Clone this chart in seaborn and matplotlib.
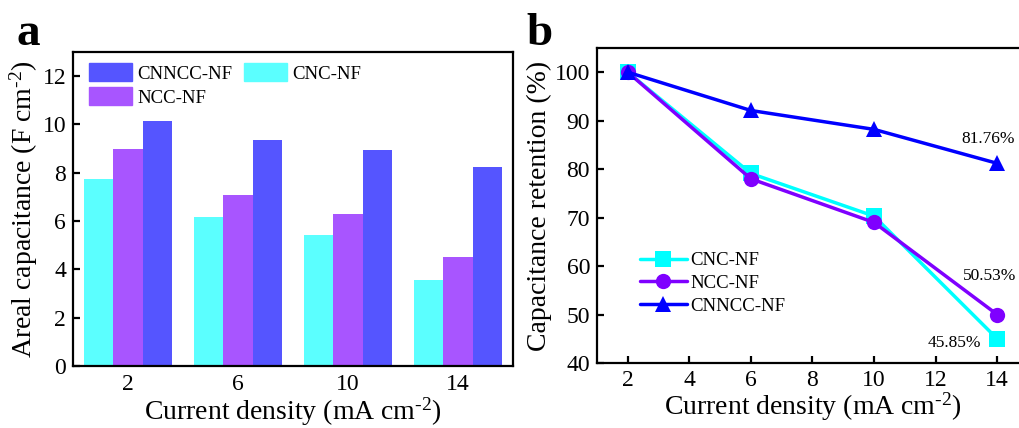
import numpy as np
import pandas as pd
import matplotlib
matplotlib.use("Agg")
import matplotlib.pyplot as plt
import seaborn as sns
from matplotlib.patches import Patch

# ============================================
# Data
# ============================================
currents = [2, 6, 10, 14]
samples = ["CNC-NF", "NCC-NF", "CNNCC-NF"]

cnc_cap = [7.74, 6.17, 5.43, 3.57]
ncc_cap = [8.98, 7.08, 6.30, 4.52]
cnncc_cap = [10.13, 9.35, 8.93, 8.23]

cnc_ret = [100, 79.1, 70.3, 45.0]
ncc_ret = [100, 78.0, 69.0, 50.0]
cnncc_ret = [100, 92.1, 88.2, 81.2]

ret_labels = ["81.76%", "50.53%", "45.85%"]

bar_colors = {"CNC-NF": "#5BFFFF", "NCC-NF": "#A855FF", "CNNCC-NF": "#5555FF"}
line_colors = {"CNC-NF": "#00FFFF", "NCC-NF": "#7F00FF", "CNNCC-NF": "#0000FF"}
line_markers = {"CNC-NF": "s", "NCC-NF": "o", "CNNCC-NF": "^"}

cap_df = pd.DataFrame({
    "current": [str(c) for c in currents] * 3,
    "sample": np.repeat(samples, len(currents)),
    "cap": cnc_cap + ncc_cap + cnncc_cap,
})
ret_df = pd.DataFrame({
    "current": currents * 3,
    "sample": np.repeat(samples, len(currents)),
    "ret": cnc_ret + ncc_ret + cnncc_ret,
})

# ============================================
# Style
# ============================================
sns.set_style("ticks")
plt.rcParams["font.family"] = ["Liberation Serif", "DejaVu Serif"]
plt.rcParams["mathtext.fontset"] = "custom"
plt.rcParams["mathtext.rm"] = "Liberation Serif"
plt.rcParams["mathtext.it"] = "Liberation Serif:italic"
plt.rcParams["axes.linewidth"] = 1.6
plt.rcParams["axes.edgecolor"] = "black"
plt.rcParams["text.color"] = "black"
plt.rcParams["axes.labelcolor"] = "black"
plt.rcParams["xtick.color"] = "black"
plt.rcParams["ytick.color"] = "black"

xlab = "Current density (mA cm$^{\\text{-2}}$)"

fig = plt.figure(figsize=(10.2, 4.28), dpi=100)
ax1 = fig.add_axes([0.0716, 0.1449, 0.4314, 0.7336])
ax2 = fig.add_axes([0.5853, 0.1519, 0.4225, 0.736])

# ============================================
# Panel a: bars
# ============================================
sns.barplot(data=cap_df, x="current", y="cap", hue="sample",
            hue_order=samples, palette=bar_colors, width=0.8,
            linewidth=0, saturation=1, ax=ax1, legend=False)
ax1.set_xlim(-0.5, 3.5)
ax1.set_ylim(0, 13)
ax1.set_yticks([0, 2, 4, 6, 8, 10, 12])
ax1.set_xlabel(xlab, fontsize=20, labelpad=0)
ax1.set_ylabel("Areal capacitance (F cm$^{\\text{-2}}$)", fontsize=20, labelpad=2)
ax1.tick_params(direction="in", labelsize=17, width=1.6, length=5, pad=5)
ax1.tick_params(axis="x", pad=6)

handles = [Patch(color=bar_colors[s]) for s in ["CNNCC-NF", "NCC-NF", "CNC-NF"]]
ax1.legend(handles, ["CNNCC-NF", "NCC-NF", "CNC-NF"], ncol=2, loc="upper left",
           frameon=False, fontsize=13.5, handlelength=2.3, handleheight=1.1,
           handletextpad=0.3, columnspacing=0.6, labelspacing=0.25,
           borderaxespad=0.2, bbox_to_anchor=(0.01, 1.0))

# ============================================
# Panel b: retention lines
# ============================================
for s in samples:
    sub = ret_df[ret_df["sample"] == s]
    sns.lineplot(data=sub, x="current", y="ret", color=line_colors[s],
                 marker=line_markers[s], markersize=11, markeredgewidth=0,
                 linewidth=2.5, label=s, ax=ax2)

ax2.set_xlim(1, 15)
ax2.set_ylim(40, 105)
ax2.set_xticks([2, 4, 6, 8, 10, 12, 14])
ax2.set_yticks([40, 50, 60, 70, 80, 90, 100])
ax2.set_xlabel(xlab, fontsize=20, labelpad=0)
ax2.set_ylabel("Capacitance retention (%)", fontsize=20, labelpad=2)
ax2.tick_params(direction="in", labelsize=17, width=1.6, length=5, pad=5)
ax2.legend(loc="lower left", frameon=False, fontsize=13.5, handlelength=2.5,
           handletextpad=0.2, labelspacing=0.3, bbox_to_anchor=(0.06, 0.1))

ax2.text(13.7, 86.3, ret_labels[0], fontsize=12.5, ha="center", va="center")
ax2.text(13.76, 57.9, ret_labels[1], fontsize=12.5, ha="center", va="center")
ax2.text(12.62, 44.2, ret_labels[2], fontsize=12.5, ha="center", va="center")

# panel labels
fig.text(0.016, 0.895, "a", fontsize=34, fontweight="bold")
fig.text(0.516, 0.895, "b", fontsize=34, fontweight="bold")

plt.savefig("out.png", dpi=100)
